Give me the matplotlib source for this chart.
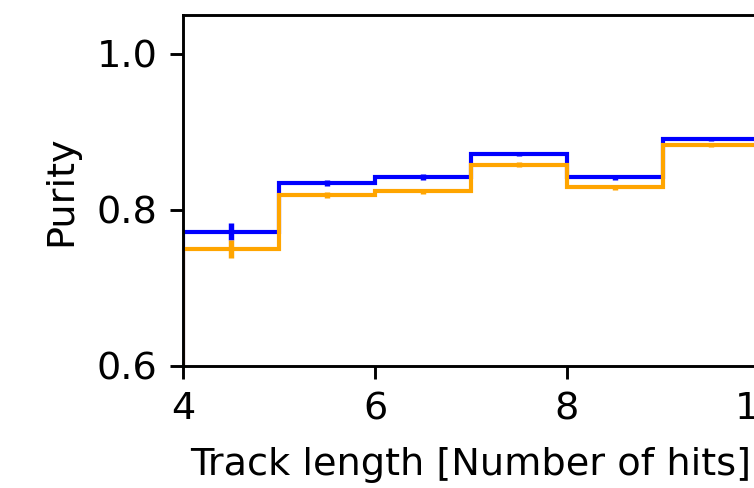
import numpy as np
import matplotlib
matplotlib.use("Agg")
import matplotlib.pyplot as plt

plt.rcParams["font.size"] = 10.6

# bin edges in number of hits
edges = [4, 5, 6, 7, 8, 9, 10]
centers = [4.5, 5.5, 6.5, 7.5, 8.5, 9.5]

purity_a = [0.772, 0.835, 0.842, 0.872, 0.842, 0.891]
err_a = [0.011, 0.004, 0.004, 0.003, 0.003, 0.002]

purity_b = [0.750, 0.819, 0.824, 0.858, 0.829, 0.883]
err_b = [0.012, 0.004, 0.003, 0.003, 0.003, 0.002]

fig = plt.figure(figsize=(754 / 260, 488 / 260), dpi=260)
ax = fig.add_axes([183 / 754, 1 - 366 / 488, (759 - 183) / 754, (366 - 15) / 488])

ax.stairs(purity_a, edges, color="blue", lw=1.15)
ax.errorbar(centers, purity_a, yerr=err_a, fmt="none", ecolor="blue")
ax.stairs(purity_b, edges, color="orange", lw=1.15)
ax.errorbar(centers, purity_b, yerr=err_b, fmt="none", ecolor="orange")

ax.set_xlim(4, 10)
ax.set_ylim(0.6, 1.05)
ax.set_xticks([4, 6, 8, 10])
ax.set_yticks([0.6, 0.8, 1.0])
ax.set_xlabel("Track length [Number of hits]", labelpad=5.5)
ax.set_ylabel("Purity", labelpad=5)

fig.savefig("out.png", dpi=260)
